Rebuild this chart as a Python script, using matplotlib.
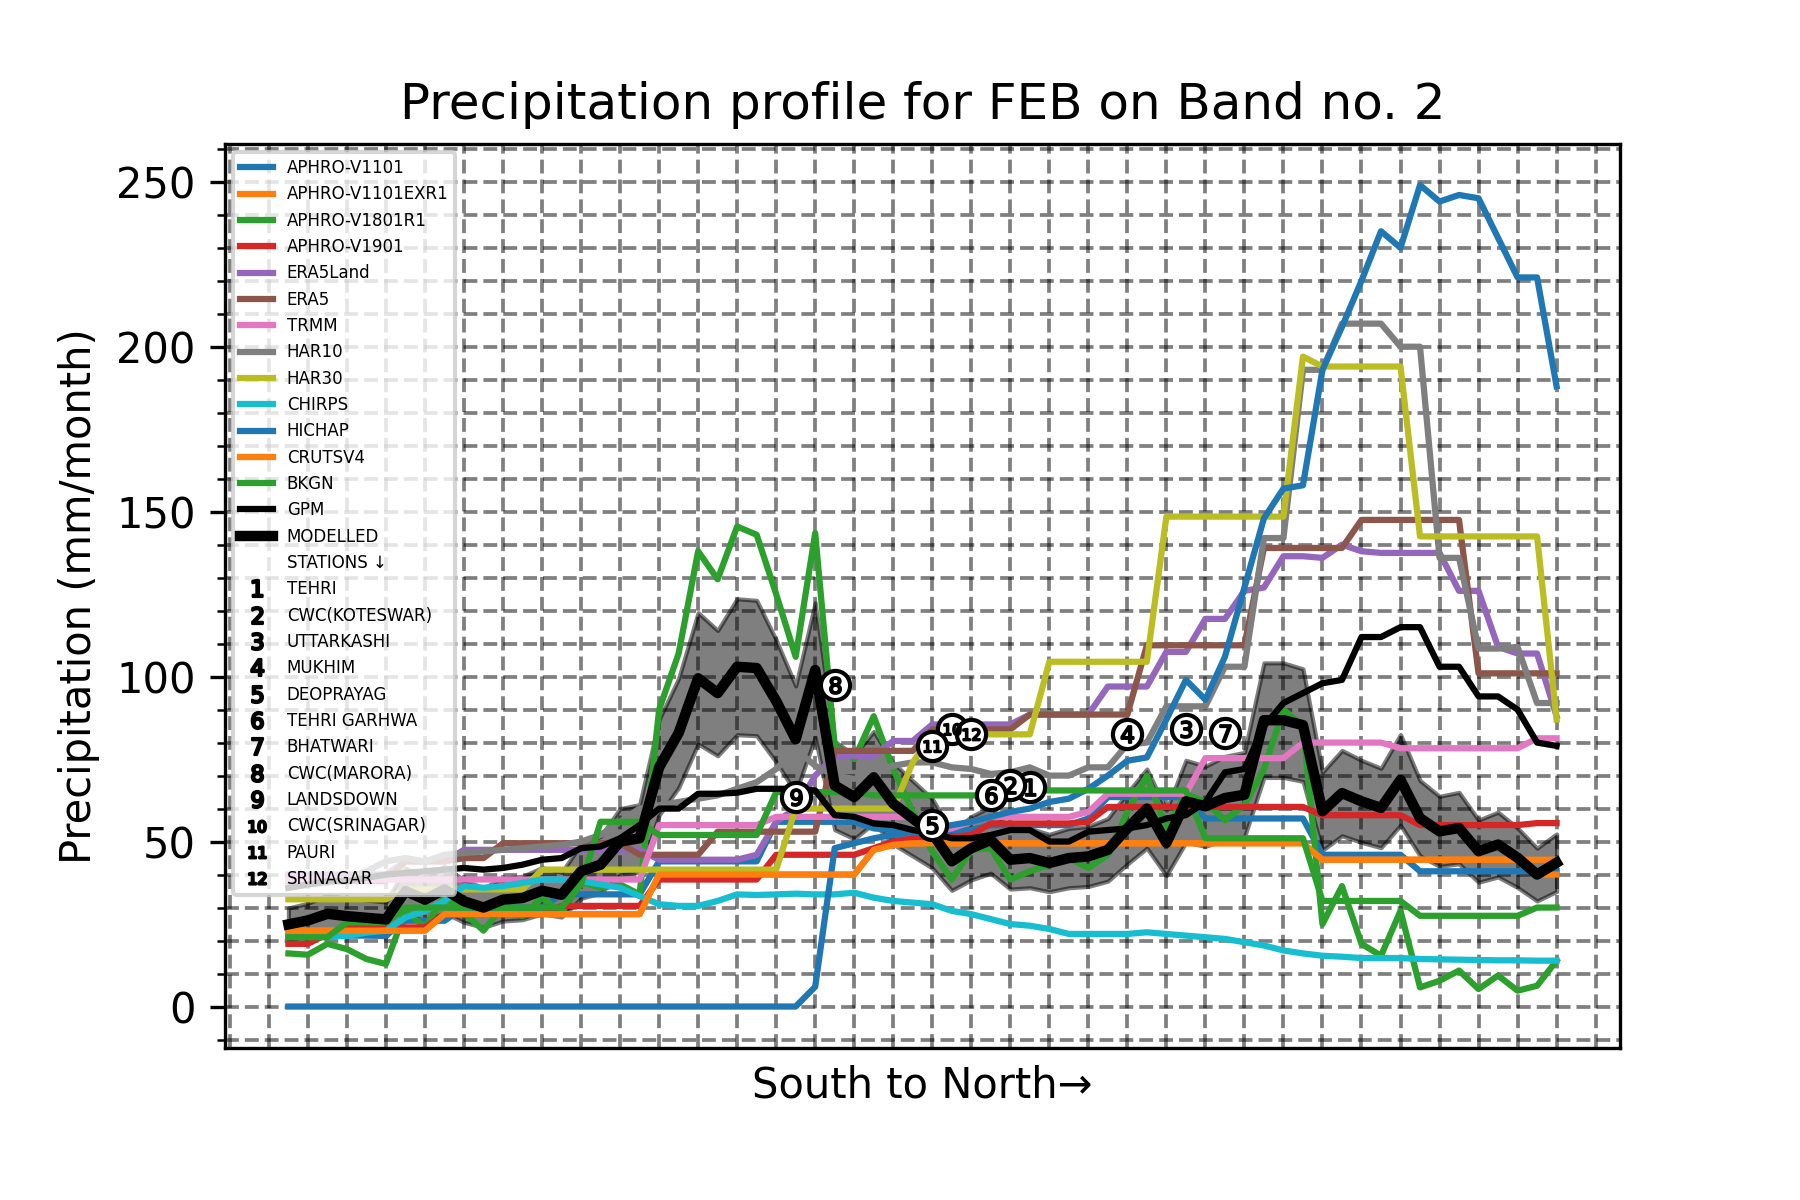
import numpy as np
import matplotlib
matplotlib.use('Agg')
import matplotlib.pyplot as plt
from matplotlib.lines import Line2D

# --- data (66 points, south -> north) ---
aphro_v1101 = [21.5] * 6 + [26] * 3 + [30] * 5 + [34] * 5 + [44] * 6 + [56] * 5 + \
    [54, 53.5, 53, 52.5, 53.5, 53.5] + [55] * 5 + [57] + [63.5] * 5 + [57] * 6 + \
    [46] * 5 + [41] * 8
aphro_v1101exr1 = [23] * 8 + [28] * 11 + [40] * 11 + [47.5, 49] + [49.5] * 21 + \
    [44.5] * 11 + [40] * 2
aphro_v1801r1 = [16.1, 15.7, 19, 17.4, 14.4, 12.9, 29, 24, 33.5, 28.4, 23, 30.5, 27.4, 33,
                 28.4, 37.8, 36, 37, 34, 90, 107, 138, 129.5, 145.5, 143, 125, 106, 143.5,
                 79, 75, 88, 72, 59, 47, 38.5, 47.5, 48, 38.5, 41, 43, 45, 42, 46, 59, 70,
                 54, 64.5, 62, 56.5, 61, 72, 90, 85, 25, 36.5, 19, 15.4, 29, 5.8, 7.8,
                 10.9, 5.3, 9.4, 4.8, 6.3, 13.9]
aphro_v1901 = [19] * 2 + [22] + [24] * 5 + [28] * 6 + [30.5] * 5 + [38.5] * 6 + [46] * 5 + \
    [48, 50, 51, 51, 51.5, 52] + [55.5] * 5 + [56] + [60.5] * 11 + [58] * 5 + [55] * 6 + \
    [55.6] * 2
era5land = [40] * 6 + [44] * 3 + [47.5] * 10 + [44.5] * 5 + [46, 56, 60, 70] + [76] * 3 + \
    [80.5] * 2 + [85.5] * 5 + [88.5] * 4 + [97] * 3 + [107.5] * 2 + [117.5] * 2 + \
    [126, 127] + [136.5] * 2 + [136, 140, 138] + [137.5] * 4 + [126] * 2 + [109] + \
    [107] * 2 + [88]
era5 = [38] * 6 + [44] * 3 + [45] * 2 + [49.5] * 7 + [46] * 4 + [53] * 6 + [77.5] * 5 + \
    [84] * 5 + [88.5] * 6 + [109.5] * 6 + [139] * 5 + [147.5] * 6 + [101] * 5
trmm = [38.5] * 19 + [55] * 6 + [57.5] * 8 + [53, 54, 56] + [57.5] * 5 + [59] + [64.5] * 5 + \
    [75.3] * 5 + [80] * 5 + [78.3] * 7 + [81.3] * 2
har10 = [36, 37, 37.5, 39, 41, 44, 45, 44, 46, 46.5, 47, 47.5, 48, 48.5, 49, 50, 52, 56, 60,
         61, 62, 63, 64, 66, 68, 72, 78, 73, 70, 69, 71, 73, 74, 74, 72.5, 72, 70.5, 71,
         72.5, 70, 70, 72.5, 72.5, 79.5, 80, 91, 91, 91, 103, 103, 142, 142, 193, 193, 207,
         207, 207, 200, 200, 136, 136, 108.5, 108.5, 109, 92, 92]
har30 = [32.5] * 6 + [35.5] * 7 + [41.5] * 13 + [60] * 6 + [74] + [82.5] * 6 + [104.5] * 6 + \
    [148.5] * 7 + [197] + [194] * 5 + [142.5] * 7 + [87]
chirps = [21.7, 21.4, 21.4, 21.4, 22.4, 23, 27, 29, 32, 36.5, 36, 36.5, 37.5, 38.5, 38.5, 38,
          37, 36, 33.5, 31, 30.5, 30.5, 32, 34, 33.8, 34, 34.2, 34, 34, 34.5, 33, 32, 31.5,
          31, 29, 28, 26.5, 25, 24.5, 23.5, 22, 22, 22, 22, 22.5, 22, 21.5, 21, 20.5, 19.5,
          18.5, 17, 16.1, 15.4, 15.1, 14.7, 14.7, 14.7, 14.4, 14.3, 14.2, 14.1, 14, 14,
          13.9, 13.9]
hichap = [0] * 27 + [6, 48, 49.5, 51, 52, 53, 54, 55, 56, 57.5, 59, 60, 62, 63, 66, 70, 74.5,
                     75.5, 87, 99, 93, 106, 127, 148, 157, 158, 193, 206, 220, 235, 230,
                     249, 244, 246, 245, 233, 221, 221, 188]
crutsv4 = [23] * 8 + [28] * 11 + [40] * 11 + [47.5, 49] + [49.5] * 21 + [44.5] * 13
bkgn = [21] * 3 + [25.5] * 3 + [30] * 9 + [37] + [56] * 3 + [52] * 6 + [65] * 5 + [64] * 7 + \
    [65.5] * 10 + [51] * 6 + [32] * 5 + [27.5] * 6 + [30] * 2
gpm = [36, 37, 38, 38, 39, 40, 40.5, 41, 41.5, 42, 41.5, 42, 43, 44.5, 45, 48, 48.5, 51, 55,
       60, 60, 64.5, 64.5, 64.8, 66, 66, 66, 65.5, 58, 57.5, 55.5, 55, 53.5, 52.5, 51, 51,
       52, 53.5, 53.5, 50, 50, 53, 53.5, 54, 55, 57, 58, 62, 71, 72, 85, 92, 95, 98, 99,
       112, 112, 115, 115, 103, 103, 94, 94, 90, 80, 79]
modelled = [24.9, 26.1, 28.1, 27.4, 26.9, 26.4, 35, 32.4, 35.5, 31.9, 30, 32.4, 32.9, 35.1,
            33.9, 41, 43, 50, 51, 72.5, 82.9, 99.5, 95, 103, 102.6, 92.6, 81, 102, 67, 63.5,
            69.5, 61.5, 57, 52.5, 44, 48, 50.5, 44.5, 45, 43.5, 45, 45.5, 47.5, 54, 60,
            49.6, 62.2, 60.7, 63.2, 64.2, 86.8, 86.8, 85.3, 59.2, 64.7, 62.2, 60.2, 68.7,
            57.1, 53.1, 54.1, 47.1, 49.1, 45.1, 40, 43.6]
band_frac = 0.2  # shaded range around MODELLED

station_names = ['TEHRI', 'CWC(KOTESWAR)', 'UTTARKASHI', 'MUKHIM', 'DEOPRAYAG',
                 'TEHRI GARHWA', 'BHATWARI', 'CWC(MARORA)', 'LANDSDOWN', 'CWC(SRINAGAR)',
                 'PAURI', 'SRINAGAR']
station_pos = [38, 37, 46, 43, 33, 36, 48, 28, 26, 34, 33, 35]
station_val = [66.5, 67, 84, 82.5, 55, 64, 83, 97.5, 63.5, 84, 79, 82.5]

datasets = [
    ('APHRO-V1101', aphro_v1101, 'C0'),
    ('APHRO-V1101EXR1', aphro_v1101exr1, 'C1'),
    ('APHRO-V1801R1', aphro_v1801r1, 'C2'),
    ('APHRO-V1901', aphro_v1901, 'C3'),
    ('ERA5Land', era5land, 'C4'),
    ('ERA5', era5, 'C5'),
    ('TRMM', trmm, 'C6'),
    ('HAR10', har10, 'C7'),
    ('HAR30', har30, 'C8'),
    ('CHIRPS', chirps, 'C9'),
    ('HICHAP', hichap, 'C0'),
    ('CRUTSV4', crutsv4, 'C1'),
    ('BKGN', bkgn, 'C2'),
]

x = np.arange(len(modelled))
mod = np.array(modelled)

fig, ax = plt.subplots(figsize=(6, 4), dpi=300)
fig.subplots_adjust(left=0.125, right=0.9, top=0.88, bottom=0.127)

ax.fill_between(x, mod * (1 - band_frac), mod * (1 + band_frac), color='k', alpha=0.5, lw=1)

handles = []
for name, vals, col in datasets:
    h, = ax.plot(x, vals, color=col, lw=1.5, label=name)
    handles.append(h)
h, = ax.plot(x, gpm, color='k', lw=1.5, label='GPM')
handles.append(h)
h, = ax.plot(x, modelled, color='k', lw=2.5, label='MODELLED')
handles.append(h)

# station observations: white circle with the station number inside
for n, (sx, sy) in enumerate(zip(station_pos, station_val), start=1):
    ax.plot(sx, sy, 'o', ms=7, mfc='white', mec='k', mew=1, zorder=5)
    ax.plot(sx, sy, marker=f'${n}$', ms=4, color='k', mew=0.5, ls='none', zorder=6)

labels = [hh.get_label() for hh in handles]
handles.append(Line2D([], [], ls='none', marker=''))
labels.append('STATIONS \u2193')
for n, nm in enumerate(station_names, start=1):
    handles.append(Line2D([], [], ls='none', marker=f'${n}$', color='k', ms=4, mew=0.6))
    labels.append(nm)
ax.legend(handles, labels, loc='upper left', fontsize=4)

ax.set_yticks(np.arange(0, 251, 50))
ax.set_yticks(np.arange(-10, 261, 10), minor=True)
ax.set_xticks(np.arange(-3, 68, 2))
ax.tick_params(axis='x', length=0, labelbottom=False)
ax.grid(which='both', ls='--', color='k', alpha=0.5, lw=0.9)

ax.set_title('Precipitation profile for FEB on Band no. 2')
ax.set_ylabel('Precipitation (mm/month)')
ax.set_xlabel('South to North\u2192')

plt.savefig('out.png', dpi=300)
